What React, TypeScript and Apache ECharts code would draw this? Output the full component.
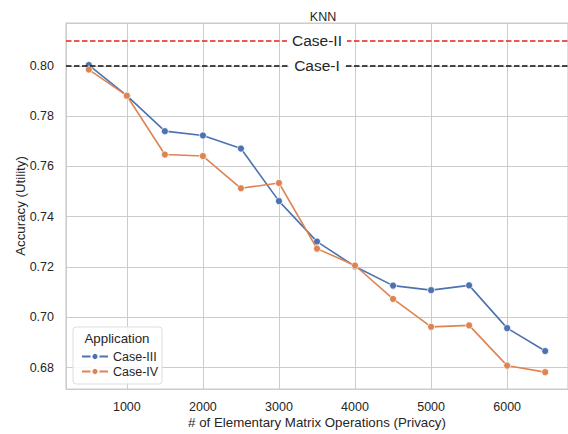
import React, { useEffect, useRef } from "react";
import * as echarts from "echarts";

const xValues = [500, 1000, 1500, 2000, 2500, 3000, 3500, 4000, 4500, 5000, 5500, 6000, 6500];
const caseIII = [0.8003, 0.7881, 0.774, 0.7723, 0.7671, 0.7462, 0.7301, 0.7202, 0.7126, 0.7108, 0.7127, 0.6957, 0.6866];
const caseIV = [0.7985, 0.7881, 0.7647, 0.7641, 0.7513, 0.7534, 0.7273, 0.7206, 0.7073, 0.6962, 0.6968, 0.6808, 0.6782];
const baselineNames = ["Case-II", "Case-I"];
const baselineValues = [0.8104, 0.8];
const baselineColors = ["#ee1c1c", "#111111"];
const seriesNames = ["Case-III", "Case-IV"];
const seriesColors = ["#4c72b0", "#dd8452"];

const FONT = "Liberation Sans, Arial, sans-serif";
const TXT = "#262626";

export default function App() {
  const ref = useRef<HTMLDivElement>(null);
  useEffect(() => {
    const chart = echarts.init(ref.current!, null, { renderer: "svg" });
    const mk = (vals: number[]) => xValues.map((x, i) => [x, vals[i]]);
    const isNice = (v: number, step: number) => Math.abs(v / step - Math.round(v / step)) < 1e-6;
    chart.setOption({
      animation: false,
      backgroundColor: "#ffffff",
      textStyle: { fontFamily: FONT },
      title: {
        text: "KNN",
        left: 318,
        textAlign: "center",
        top: 5,
        textStyle: { fontSize: 12.5, fontWeight: "normal", color: TXT, fontFamily: FONT },
      },
      grid: { left: 66, top: 23, right: -2, bottom: 43, show: true, borderColor: "#cccccc", borderWidth: 1.2 },
      xAxis: {
        type: "value",
        min: 200,
        max: 6800,
        splitNumber: 7,
        name: "# of Elementary Matrix Operations (Privacy)",
        nameLocation: "middle",
        nameGap: 27,
        nameMoveOverlap: false,
        nameTextStyle: { fontSize: 13.3, color: TXT, fontFamily: FONT },
        axisLine: { show: false },
        axisTick: { show: false },
        axisLabel: {
          fontSize: 12.5,
          color: TXT,
          margin: 11,
          fontFamily: FONT,
          showMinLabel: false,
          showMaxLabel: false,
          formatter: (v: number) => (isNice(v, 1000) ? String(v) : ""),
        },
        splitLine: { show: true, lineStyle: { color: "#cccccc", width: 1 } },
      },
      yAxis: {
        type: "value",
        min: 0.6715,
        max: 0.817,
        splitNumber: 7,
        name: "Accuracy (Utility)",
        nameLocation: "middle",
        nameGap: 39,
        nameMoveOverlap: false,
        nameTextStyle: { fontSize: 13.3, color: TXT, fontFamily: FONT },
        axisLine: { show: false },
        axisTick: { show: false },
        axisLabel: {
          fontSize: 12.5,
          color: TXT,
          margin: 12,
          fontFamily: FONT,
          showMinLabel: false,
          showMaxLabel: false,
          formatter: (v: number) => (isNice(v, 0.02) ? v.toFixed(2) : ""),
        },
        splitLine: { show: true, lineStyle: { color: "#cccccc", width: 1 } },
      },
      legend: {
        orient: "vertical",
        left: 76,
        top: 345,
        itemWidth: 26,
        itemHeight: 9,
        itemGap: 2,
        z: 20,
        textStyle: { fontSize: 12.5, color: TXT, fontFamily: FONT },
        data: seriesNames,
      },
      graphic: [
        {
          type: "rect",
          z: 15,
          shape: { x: 73, y: 327, width: 89, height: 57, r: 3 },
          style: { fill: "rgba(255,255,255,0.85)", stroke: "#dddddd", lineWidth: 1 },
        },
        {
          type: "text",
          z: 16,
          x: 117,
          y: 338,
          style: { text: "Application", fontSize: 13.3, fill: TXT, fontFamily: FONT, align: "center", verticalAlign: "middle" },
        },
      ],
      series: [
        {
          name: seriesNames[0],
          type: "line",
          data: mk(caseIII),
          symbol: "circle",
          symbolSize: 7,
          color: seriesColors[0],
          lineStyle: { width: 1.6, color: seriesColors[0] },
          itemStyle: { color: seriesColors[0], borderColor: "#ffffff", borderWidth: 0.7 },
          z: 3,
          markLine: {
            silent: true,
            symbol: "none",
            animation: false,
            data: baselineNames.map((n, i) => ({
              name: n,
              yAxis: baselineValues[i],
              lineStyle: { color: baselineColors[i], type: [5.5, 2.5], width: 1.5 },
            })),
            label: {
              show: true,
              position: "middle",
              verticalAlign: "middle",
              align: "center",
              formatter: (p: any) => p.name,
              fontSize: 15.5,
              color: TXT,
              fontFamily: FONT,
              backgroundColor: "#ffffff",
              padding: [1, 5],
              distance: 0,
            },
          },
        },
        {
          name: seriesNames[1],
          type: "line",
          data: mk(caseIV),
          symbol: "circle",
          symbolSize: 7,
          color: seriesColors[1],
          lineStyle: { width: 1.6, color: seriesColors[1] },
          itemStyle: { color: seriesColors[1], borderColor: "#ffffff", borderWidth: 0.7 },
          z: 4,
        },
      ],
    });
    return () => chart.dispose();
  }, []);
  return <div ref={ref} style={{ position: "fixed", left: 0, top: 0, width: 568, height: 434 }} />;
}
